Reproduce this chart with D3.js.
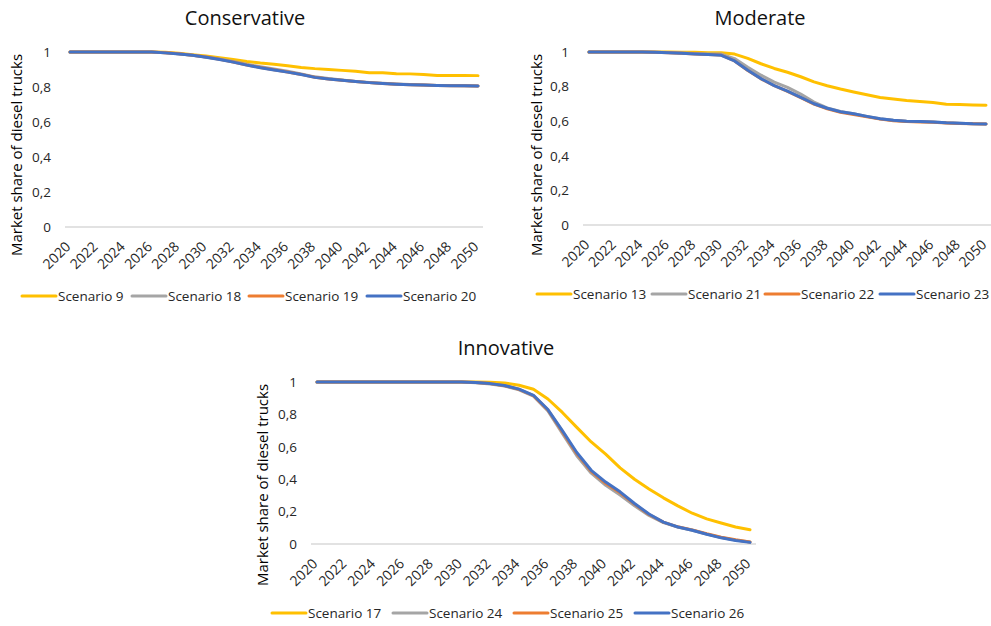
<!DOCTYPE html>
<html>
<head>
<meta charset="utf-8">
<script src="https://cdn.jsdelivr.net/npm/d3@7"></script>
<style>
  html, body { margin: 0; padding: 0; background: #fff; }
  svg { display: block; font-family: "Open Sans", "Noto Sans", sans-serif; }
</style>
</head>
<body>
<svg id="chart" width="991" height="626"></svg>
<script>
// Years of the projection (one value per year)
const years = [2020, 2021, 2022, 2023, 2024, 2025, 2026, 2027, 2028, 2029, 2030,
  2031, 2032, 2033, 2034, 2035, 2036, 2037, 2038, 2039, 2040,
  2041, 2042, 2043, 2044, 2045, 2046, 2047, 2048, 2049, 2050];

// Labelled years on the horizontal axis
const xTickLabels = [2020, 2022, 2024, 2026, 2028, 2030, 2032, 2034, 2036, 2038,
  2040, 2042, 2044, 2046, 2048, 2050];

// Labelled values on the vertical axis
const yTickValues = [0, 0.2, 0.4, 0.6, 0.8, 1];

// Panel titles
const panelTitles = ["Conservative", "Moderate", "Innovative"];

// Market share of diesel trucks — Conservative
const scenario9 = [1, 1, 1, 1, 1, 1, 1, 0.998, 0.993, 0.985, 0.977,
  0.967, 0.957, 0.946, 0.937, 0.930, 0.921, 0.912, 0.905, 0.900, 0.895,
  0.890, 0.882, 0.881, 0.876, 0.875, 0.872, 0.866, 0.866, 0.866, 0.865];
const scenario18 = [1, 1, 1, 1, 1, 1, 1, 0.996, 0.990, 0.982, 0.972,
  0.960, 0.946, 0.930, 0.916, 0.903, 0.890, 0.875, 0.858, 0.848, 0.840,
  0.832, 0.826, 0.821, 0.817, 0.814, 0.811, 0.809, 0.808, 0.807, 0.806];
const scenario19 = [1, 1, 1, 1, 1, 1, 1, 0.996, 0.990, 0.982, 0.971,
  0.958, 0.943, 0.926, 0.911, 0.898, 0.886, 0.872, 0.856, 0.846, 0.838,
  0.831, 0.825, 0.820, 0.816, 0.813, 0.811, 0.809, 0.807, 0.807, 0.806];
const scenario20 = [1, 1, 1, 1, 1, 1, 1, 0.995, 0.989, 0.981, 0.970,
  0.957, 0.942, 0.925, 0.910, 0.897, 0.885, 0.871, 0.855, 0.846, 0.838,
  0.831, 0.825, 0.820, 0.816, 0.813, 0.811, 0.809, 0.807, 0.807, 0.806];

// Market share of diesel trucks — Moderate
const scenario13 = [1, 1, 1, 1, 1, 1, 1, 0.999, 0.998, 0.996, 0.995,
  0.988, 0.963, 0.932, 0.905, 0.883, 0.857, 0.827, 0.805, 0.786, 0.769,
  0.753, 0.737, 0.728, 0.720, 0.714, 0.708, 0.698, 0.697, 0.694, 0.692];
const scenario21 = [1, 1, 1, 1, 1, 0.999, 0.997, 0.994, 0.991, 0.989, 0.988,
  0.962, 0.912, 0.866, 0.826, 0.796, 0.757, 0.711, 0.677, 0.656, 0.643,
  0.628, 0.614, 0.605, 0.600, 0.598, 0.596, 0.591, 0.588, 0.585, 0.584];
const scenario22 = [1, 1, 1, 1, 1, 0.999, 0.996, 0.993, 0.989, 0.986, 0.982,
  0.948, 0.893, 0.845, 0.805, 0.772, 0.736, 0.699, 0.672, 0.651, 0.639,
  0.625, 0.612, 0.603, 0.598, 0.596, 0.594, 0.590, 0.587, 0.585, 0.584];
const scenario23 = [1, 1, 1, 1, 1, 0.999, 0.996, 0.993, 0.989, 0.986, 0.981,
  0.948, 0.894, 0.846, 0.806, 0.774, 0.738, 0.701, 0.675, 0.655, 0.643,
  0.628, 0.614, 0.605, 0.600, 0.598, 0.596, 0.591, 0.588, 0.585, 0.584];

// Market share of diesel trucks — Innovative
const scenario17 = [1, 1, 1, 1, 1, 1, 1, 1, 1, 1, 1,
  1, 0.998, 0.994, 0.980, 0.955, 0.895, 0.812, 0.720, 0.630, 0.555,
  0.470, 0.400, 0.340, 0.285, 0.235, 0.190, 0.155, 0.130, 0.105, 0.088];
const scenario24 = [1, 1, 1, 1, 1, 1, 1, 1, 1, 1, 1,
  0.996, 0.988, 0.975, 0.952, 0.912, 0.822, 0.683, 0.545, 0.437, 0.362,
  0.302, 0.236, 0.176, 0.132, 0.104, 0.085, 0.061, 0.040, 0.024, 0.012];
const scenario25 = [1, 1, 1, 1, 1, 1, 1, 1, 1, 1, 1,
  0.997, 0.990, 0.977, 0.955, 0.916, 0.827, 0.694, 0.558, 0.448, 0.375,
  0.316, 0.246, 0.182, 0.135, 0.106, 0.087, 0.063, 0.042, 0.026, 0.013];
const scenario26 = [1, 1, 1, 1, 1, 1, 1, 1, 1, 1, 1,
  0.997, 0.990, 0.978, 0.956, 0.918, 0.830, 0.700, 0.565, 0.455, 0.382,
  0.322, 0.250, 0.185, 0.135, 0.105, 0.085, 0.060, 0.038, 0.022, 0.010];

// Series names, in legend order for each panel
const conservativeNames = ["Scenario 9", "Scenario 18", "Scenario 19", "Scenario 20"];
const moderateNames = ["Scenario 13", "Scenario 21", "Scenario 22", "Scenario 23"];
const innovativeNames = ["Scenario 17", "Scenario 24", "Scenario 25", "Scenario 26"];

// Office palette used for the four series of every panel
const seriesColors = ["#FFC000", "#A5A5A5", "#ED7D31", "#4472C4"];

const yAxisTitle = "Market share of diesel trucks";

// Placement of each panel on the page
const layouts = [
  { x0: 70, x1: 478, yTop: 52, yBottom: 227, axisL: 65, axisR: 483,
    tickRight: 51, yLabelX: 22, yLabelCY: 155, titleX: 245, titleY: 25,
    legendY: 296, legendX: [22, 132, 249, 367] },
  { x0: 589, x1: 986, yTop: 52, yBottom: 225, axisL: 583, axisR: 991,
    tickRight: 569, yLabelX: 542, yLabelCY: 155, titleX: 760, titleY: 25,
    legendY: 294, legendX: [537, 652, 765, 880] },
  { x0: 317, x1: 750, yTop: 382, yBottom: 544, axisL: 311, axisR: 756,
    tickRight: 297, yLabelX: 268, yLabelCY: 485, titleX: 506, titleY: 355,
    legendY: 613, legendX: [272, 393, 514, 635] }
];

const panels = [
  { title: panelTitles[0], names: conservativeNames, series: [scenario9, scenario18, scenario19, scenario20] },
  { title: panelTitles[1], names: moderateNames, series: [scenario13, scenario21, scenario22, scenario23] },
  { title: panelTitles[2], names: innovativeNames, series: [scenario17, scenario24, scenario25, scenario26] }
];

const svg = d3.select("#chart");
const textColor = "#262626";

panels.forEach((panel, i) => {
  const L = layouts[i];
  const g = svg.append("g");

  const x = d3.scaleLinear().domain([years[0], years[years.length - 1]]).range([L.x0, L.x1]);
  const y = d3.scaleLinear().domain([0, 1]).range([L.yBottom, L.yTop]);

  // Title
  g.append("text")
    .attr("x", L.titleX).attr("y", L.titleY)
    .attr("text-anchor", "middle")
    .attr("font-size", 20)
    .attr("fill", "#111")
    .text(panel.title);

  // Vertical axis labels (no line, no gridlines)
  const yAxis = d3.axisLeft(y)
    .tickValues(yTickValues)
    .tickSize(0)
    .tickPadding(0)
    .tickFormat(d => String(d).replace(".", ","));
  const yg = g.append("g")
    .attr("transform", `translate(${L.tickRight},0)`)
    .call(yAxis);
  yg.select(".domain").remove();
  yg.selectAll("text")
    .attr("font-size", 13.5)
    .attr("font-family", "\"Open Sans\", sans-serif")
    .attr("fill", textColor);

  // Horizontal axis baseline
  g.append("line")
    .attr("x1", L.axisL).attr("x2", L.axisR)
    .attr("y1", y(0)).attr("y2", y(0))
    .attr("stroke", "#d9d9d9").attr("stroke-width", 1.5);

  // Horizontal axis labels, rotated
  const xAxis = d3.axisBottom(x)
    .tickValues(xTickLabels)
    .tickSize(0)
    .tickPadding(0)
    .tickFormat(d3.format("d"));
  const xg = g.append("g")
    .attr("transform", `translate(0,${y(0)})`)
    .call(xAxis);
  xg.select(".domain").remove();
  xg.selectAll("text")
    .attr("font-size", 14)
    .attr("font-family", "\"Open Sans\", sans-serif")
    .attr("fill", textColor)
    .attr("text-anchor", "end")
    .attr("dy", "0.35em")
    .attr("transform", "translate(-2.5,17) rotate(-45)");

  // Vertical axis title
  g.append("text")
    .attr("transform", `translate(${L.yLabelX},${L.yLabelCY}) rotate(-90)`)
    .attr("text-anchor", "middle")
    .attr("font-size", 15)
    .attr("fill", "#000")
    .text(yAxisTitle);

  // Series lines
  const line = d3.line()
    .x((d, k) => x(years[k]))
    .y(d => y(d));
  panel.series.forEach((values, s) => {
    g.append("path")
      .datum(values)
      .attr("d", line)
      .attr("fill", "none")
      .attr("stroke", seriesColors[s])
      .attr("stroke-width", 3)
      .attr("stroke-linejoin", "round")
      .attr("stroke-linecap", "round");
  });

  // Legend
  panel.names.forEach((name, s) => {
    const lx = L.legendX[s];
    g.append("line")
      .attr("x1", lx).attr("x2", lx + 34)
      .attr("y1", L.legendY).attr("y2", L.legendY)
      .attr("stroke", seriesColors[s]).attr("stroke-width", 3)
      .attr("stroke-linecap", "round");
    g.append("text")
      .attr("x", lx + 36).attr("y", L.legendY)
      .attr("dy", "0.35em")
      .attr("font-size", 13.5)
      .attr("fill", textColor)
      .text(name);
  });
});
</script>
</body>
</html>
